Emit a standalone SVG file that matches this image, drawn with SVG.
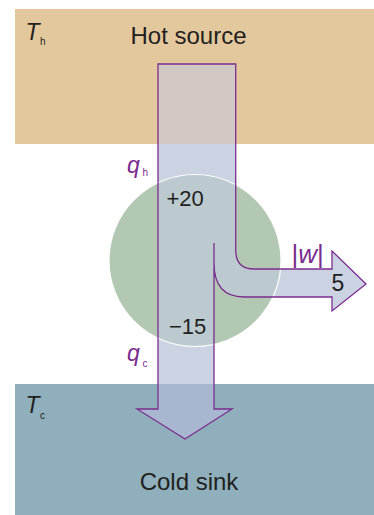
<svg xmlns="http://www.w3.org/2000/svg" width="374" height="515" viewBox="0 0 374 515">
<style>
.t{font-family:"Liberation Sans",Arial,sans-serif;fill:#231f20}
.i{font-style:italic}
.p{fill:#7b2d8e}
.outline{fill:none;stroke:#7b2d8e;stroke-width:1.3;stroke-linejoin:miter}
</style>
<defs>
<path id="arrowShape" d="M158,64 H235.7 V250 C235.7,263 242,269 254,269 H332 V251 L366,284 L332,311 V297 H244 C221,297 214,282 214,263 V409 H232 L185,439 L137,409 H158 Z"/>
<clipPath id="ac"><use href="#arrowShape"/></clipPath>
</defs>
<rect width="374" height="515" fill="#ffffff"/>
<g id="hot-source">
<rect x="15" y="9" width="359" height="135" fill="#e3c89d"/>
<text class="t" x="188.5" y="43.5" font-size="24" text-anchor="middle">Hot source</text>
<text class="t i" x="25.5" y="40" font-size="23">T</text>
<text class="t" x="40" y="44.5" font-size="10">h</text>
</g>
<g id="cold-sink">
<rect x="15" y="384" width="359" height="131" fill="#8eafbb"/>
<text class="t" x="189" y="490" font-size="24" text-anchor="middle">Cold sink</text>
<text class="t i" x="25.5" y="413" font-size="23">T</text>
<text class="t" x="40" y="418.5" font-size="10">c</text>
</g>
<g id="engine">
<circle cx="195" cy="260.5" r="86" fill="#b3c8b3"/>
</g>
<g id="connectors">
<g clip-path="url(#ac)">
<rect x="0" y="0" width="374" height="515" fill="#cbd2e2"/>
<rect x="15" y="9" width="359" height="135" fill="#d3c9c4"/>
<rect x="15" y="384" width="359" height="131" fill="#a8b7cf"/>
<circle cx="195" cy="260.5" r="86" fill="#bccad0"/>
</g>
<circle cx="195" cy="260.5" r="86" fill="none" stroke="#ffffff" stroke-width="1.2"/>
<path class="outline" d="M214,243 V409 H232 L185,439 L137,409 H158 V64 H235.7 V250 C235.7,263 242,269 254,269 H332 V251 L366,284 L332,311 V297 H244 C221,297 214,282 214,263"/>
</g>
<g id="labels">
<text class="t p i" x="127" y="173" font-size="23">q</text>
<text class="t p" x="142.5" y="175.7" font-size="10">h</text>
<text class="t p i" x="127" y="360.5" font-size="23">q</text>
<text class="t p" x="142.5" y="367" font-size="10">c</text>
<text class="t" x="166.5" y="206" font-size="22">+20</text>
<text class="t" x="169" y="334" font-size="22">−15</text>
<text class="t p" x="291.5" y="262.5" font-size="26">|<tspan font-style="italic">w</tspan>|</text>
<text class="t" x="331.5" y="291" font-size="23">5</text>
</g>
</svg>
